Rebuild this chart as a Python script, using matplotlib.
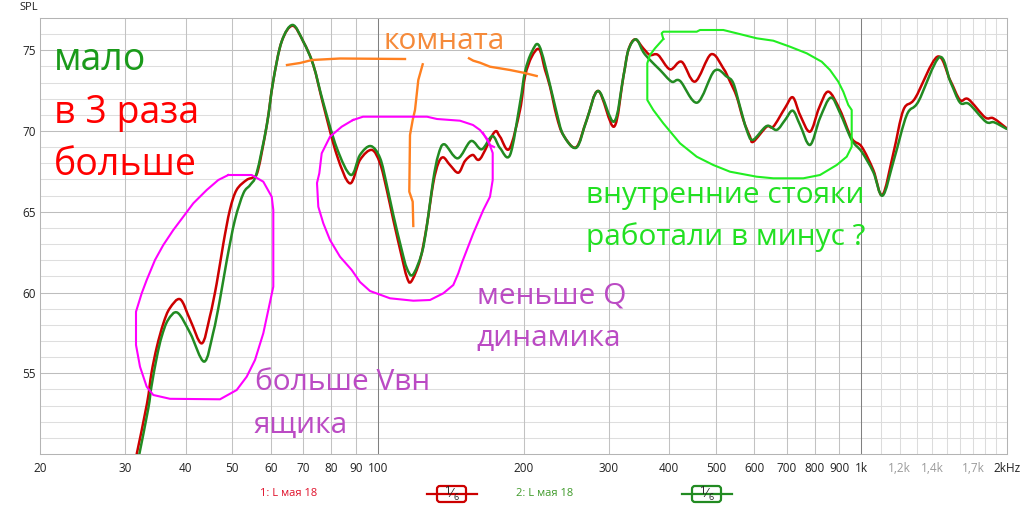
import numpy as np
import matplotlib
matplotlib.use('Agg')
import matplotlib.pyplot as plt
from matplotlib.transforms import Affine2D
from matplotlib.patches import FancyBboxPatch, PathPatch
from matplotlib.path import Path

plt.rcParams['font.family'] = ['Open Sans', 'DejaVu Sans']

# ---------------- data ----------------
freq_red = [31.7, 33.3, 34.0, 34.9, 36.0, 37.1, 39.0, 40.9, 43.2, 44.9, 46.4, 47.9, 49.4, 51.0,
            53.5, 55.2, 56.5, 58.9, 60.7, 63.2, 66.6, 70.1, 73.5, 77.1, 82.2, 87.5, 91.8, 97.1,
            101.0, 104.3, 107.6, 112.0, 114.7, 117.1, 122.2, 126.1, 130.1, 133.3, 136.5, 140.9,
            146.7, 151.4, 157.0, 162.6, 174.0, 178.8, 186.9, 196.7, 201.4, 208.0, 215.6, 221.6,
            226.9, 234.3, 241.7, 256.9, 270.2, 285.6, 307.8, 321.8, 329.6, 340.2, 353.8, 365.3,
            379.6, 401.8, 424.7, 452.6, 488.4, 517.8, 534.8, 552.0, 569.9, 588.2, 597.6, 636.8,
            657.1, 694.9, 721.0, 746.6, 782.8, 817.2, 854.0, 902.8, 954.6, 1001, 1058, 1105,
            1164, 1221, 1291, 1435, 1525, 1599, 1664, 1801, 1874, 1997]
spl_red = [50.00, 53.14, 55.00, 56.65, 58.10, 59.02, 59.58, 58.30, 56.85, 58.50, 60.57, 63.05, 65.11, 66.35,
           66.97, 67.14, 67.59, 70.37, 73.06, 75.53, 76.52, 75.53, 74.09, 71.61, 68.52, 66.76, 68.21, 68.83,
           68.00, 66.35, 64.49, 62.22, 60.98, 60.67, 62.02, 64.08, 66.76, 68.00, 68.37, 67.90,
           67.42, 68.15, 68.52, 68.27, 69.92, 69.65, 68.89, 71.30, 73.37, 74.60, 75.06, 73.78,
           72.75, 70.89, 69.76, 68.99, 70.68, 72.48, 70.27, 73.37, 75.02, 75.68, 75.12, 74.71,
           74.71, 73.82, 74.29, 73.06, 74.75, 73.89, 73.06, 72.13, 70.68, 69.65, 69.34, 70.27,
           70.27, 71.43, 72.09, 70.99, 69.96, 71.43, 72.44, 71.30, 69.55, 69.03, 67.59, 66.04,
           68.62, 71.30, 72.03, 74.60, 73.16, 71.92, 71.97, 70.85, 70.79, 70.17]

freq_green = [32.1, 33.5, 34.0, 34.9, 35.7, 36.8, 38.5, 40.9, 43.7, 45.6, 47.1, 48.7, 50.6, 52.7,
              54.4, 56.1, 58.9, 60.7, 63.2, 66.6, 70.1, 73.5, 77.1, 82.2, 87.9, 91.8, 96.6, 101.0,
              104.3, 107.6, 112.0, 114.7, 118.0, 123.2, 126.3, 130.1, 133.3, 137.2, 146.2, 155.7,
              163.9, 172.4, 178.8, 187.6, 196.7, 201.4, 208.0, 215.6, 226.9, 234.3, 241.7, 257.3,
              270.2, 285.6, 307.8, 321.8, 329.6, 341.8, 353.8, 365.3, 383.2, 404.9, 421.6, 457.4,
              496.2, 526.4, 543.2, 560.8, 578.9, 596.0, 636.8, 667.9, 694.9, 721.0, 746.6, 782.8,
              820.9, 863.8, 902.8, 954.6, 1001, 1058, 1106, 1167, 1241, 1311, 1449, 1528, 1599,
              1670, 1808, 1881, 1997]
spl_green = [50.00, 52.83, 54.17, 56.03, 57.27, 58.30, 58.75, 57.48, 55.72, 57.48, 59.54, 62.02, 64.49, 66.15,
             66.66, 67.38, 70.37, 73.06, 75.53, 76.57, 75.53, 74.09, 71.74, 68.95, 67.28, 68.52, 69.07, 68.33,
             66.66, 64.80, 62.63, 61.52, 61.09, 62.43, 64.18, 66.97, 68.52, 69.18, 68.31, 69.38,
             68.87, 69.69, 68.95, 68.52, 71.74, 73.66, 74.89, 75.27, 72.85, 71.12, 69.76, 68.97,
             70.68, 72.48, 70.58, 73.37, 75.02, 75.68, 74.89, 74.40, 73.78, 73.06, 73.10, 71.76,
             73.72, 73.37, 72.96, 71.51, 70.07, 69.45, 70.31, 70.07, 70.68, 71.26, 70.37, 69.14,
             70.81, 72.07, 71.12, 69.45, 68.72, 67.46, 66.00, 68.21, 71.00, 71.82, 74.57, 73.04, 71.76,
             71.67, 70.58, 70.54, 70.13]

x_tick_values = [20, 30, 40, 50, 60, 70, 80, 90, 100, 200, 300, 400, 500, 600, 700, 800, 900,
                 1000, 1200, 1400, 1700, 2000]
x_tick_labels = ['20', '30', '40', '50', '60', '70', '80', '90', '100', '200', '300', '400', '500',
                 '600', '700', '800', '900', '1k', '1,2k', '1,4k', '1,7k', '2kHz']
grey_x_labels = ['1,2k', '1,4k', '1,7k']
y_tick_values = [55, 60, 65, 70, 75]
legend_names = ['1: L мая 18', '2: L мая 18']

# hand-drawn annotation strokes (image pixel coordinates, y from top)
orange_strokes = [
    [(287, 65), (300, 63), (312, 60), (340, 58.5), (405, 59)],
    [(422.7, 64.3), (418.3, 80), (415, 110), (412.7, 120), (410, 135), (409.3, 191.7),
     (412.7, 201.7), (413.3, 226)],
    [(469, 58.3), (473.3, 60.7), (480, 62.7), (490, 66.7), (510, 70), (523.3, 72.7), (536.7, 76)],
]
magenta_strokes = [
    [(228.3, 175), (251.7, 175), (263.3, 181.7), (271.7, 196.7), (273.3, 210), (273.3, 286.7),
     (268.3, 310), (263.3, 333.3), (255, 360), (246.7, 376.7), (236.7, 390), (220, 399.3),
     (170, 398.8), (153.3, 395), (146.7, 386.7), (140, 366.7), (136, 345), (136, 311.7),
     (141.7, 293.3), (146.7, 280), (155, 260), (163.3, 245), (173.3, 230), (183.3, 216.7),
     (193.3, 203.3), (206.7, 190), (218.3, 180), (228.3, 175)],
    [(353, 120), (363, 116.7), (427, 116.7), (437, 119), (460, 120.7), (473, 125), (480, 130),
     (488, 140), (492.7, 153), (492.7, 180), (490, 196.7), (483.3, 210), (473.3, 233.3),
     (461.7, 263.3), (458.3, 273.3), (453.3, 285), (443.3, 293.3), (430, 300), (413.3, 300.7),
     (390, 298.3), (370, 291), (360, 282), (351.7, 270), (340, 256.7), (330, 240),
     (323.3, 223.3), (318.3, 206.7), (317, 183), (319.3, 173.3), (321.7, 153.3), (330, 136.7),
     (341.7, 126.7), (353, 120)],
    [(483, 133), (490, 145), (494, 147)],
]
green_strokes = [
    [(663.3, 39), (661.7, 33.3), (663.3, 31.7), (696.7, 31.7), (700, 30), (723.3, 30),
     (736.7, 33.3), (756.7, 38.3), (773.3, 40.7), (790, 46.7), (806.7, 53.3), (821.7, 61.7),
     (830, 70), (838.3, 81.7), (843.3, 91.7), (848.3, 105), (851.7, 110), (851.7, 146.7),
     (846.7, 156.7), (836.7, 165), (820, 175), (803.3, 178.3), (773.3, 178.3), (756.7, 176.7),
     (730, 171.7), (713.3, 165), (696.7, 156.7), (680, 143.3), (663.3, 123.3), (653.3, 110),
     (647.3, 100), (647.3, 63.3), (650, 55), (655, 48.3), (663.3, 39)],
]

# ---------------- figure ----------------
W, H = 1027, 505
fig = plt.figure(figsize=(W / 100, H / 100), dpi=100)
fig.patch.set_facecolor('white')
L, R, T, B = 40, 1007, 18, 454
ax = fig.add_axes([L / W, 1 - B / H, (R - L) / W, (B - T) / H])
ax.set_xscale('log')
ax.set_xlim(20, 2000)
ax.set_ylim(50, 77)
px = Affine2D().scale(1 / W, -1 / H).translate(0, 1) + fig.transFigure

# grid
for v in range(51, 77):
    ax.axhline(v, color='#bdbdbd' if v % 5 == 0 else '#dedede', lw=0.75, zorder=0)
for v in list(range(30, 100, 10)) + list(range(200, 1000, 100)):
    ax.axvline(v, color='#c2c2c2', lw=0.75, zorder=0)
for v in range(1100, 2000, 100):
    ax.axvline(v, color='#dcdcdc', lw=0.75, zorder=0)
for v in (100, 1000):
    ax.axvline(v, color='#808080', lw=0.75, zorder=0)
for s in ax.spines.values():
    s.set_color('#b4b4b4')
    s.set_linewidth(0.75)

ax.set_xticks(x_tick_values)
ax.set_xticklabels(x_tick_labels)
ax.xaxis.set_minor_locator(matplotlib.ticker.NullLocator())
ax.set_yticks(y_tick_values)
ax.tick_params(axis='both', length=0, labelsize=8.5, colors='#222222')
ax.tick_params(axis='x', pad=6)
ax.tick_params(axis='y', pad=3)
for lab in ax.get_xticklabels():
    if lab.get_text() in grey_x_labels:
        lab.set_color('#9a9a9a')

fig.text(28.5, 8, 'SPL', transform=px, fontsize=8, color='#222222', ha='center', va='center')


# curves: smooth (Catmull-Rom) line drawn through the read points, in log-frequency space
def smooth_curve(freqs, vals, color, z):
    P = np.column_stack([np.log10(freqs), vals])
    n = len(P)
    verts = [P[0]]
    codes = [Path.MOVETO]
    for i in range(n - 1):
        p0 = P[max(i - 1, 0)]
        p1 = P[i]
        p2 = P[i + 1]
        p3 = P[min(i + 2, n - 1)]
        verts += [p1 + (p2 - p0) / 6, p2 - (p3 - p1) / 6, p2]
        codes += [Path.CURVE4] * 3
    V = np.array(verts)
    V[:, 0] = 10 ** V[:, 0]
    ax.add_patch(PathPatch(Path(V, codes), fill=False, edgecolor=color, lw=1.8,
                           joinstyle='round', capstyle='round', zorder=z))


smooth_curve(freq_red, spl_red, '#cc0000', 3)
smooth_curve(freq_green, spl_green, '#228b22', 4)

# hand-drawn strokes
for strokes, col, lw in ((orange_strokes, '#ff8020', 1.7), (magenta_strokes, '#ff00ff', 1.5),
                         (green_strokes, '#22ee22', 1.5)):
    for st in strokes:
        xs = [p[0] for p in st]
        ys = [p[1] for p in st]
        fig.add_artist(matplotlib.lines.Line2D(xs, ys, transform=px, color=col, lw=lw,
                                               solid_joinstyle='round', zorder=6))


# annotation texts
def note(x, y, s, col, size):
    fig.text(x, y, s, transform=px, color=col, fontsize=size, ha='left', va='baseline', zorder=7)


note(54, 70, 'мало', '#1a9a1a', 27)
note(54, 123, 'в 3 раза', '#ff0000', 27)
note(54, 175, 'больше', '#ff0000', 27)
note(384, 49, 'комната', '#f58a3a', 21.5)
note(477, 303, 'меньше Q', '#bb4bc4', 21.5)
note(476, 346, 'динамика', '#bb4bc4', 21.5)
note(255, 390, 'больше Vвн', '#bb4bc4', 21.5)
note(254, 433, 'ящика', '#bb4bc4', 21.5)
note(586, 203, 'внутренние стояки', '#22e022', 21.5)
note(586, 245, 'работали в минус ?', '#22e022', 21.5)

# legend strip
legend_cols = ['#e0102a', '#3f9a2a']
box_cols = ['#cc0000', '#228b22']
text_x = [260, 516]
box_x = [(427, 437, 466, 477), (682, 692, 721, 732)]
for name, tc, bc, tx, (l0, b0, b1, l1) in zip(legend_names, legend_cols, box_cols, text_x, box_x):
    fig.text(tx, 493, name, transform=px, color=tc, fontsize=8, ha='left', va='center')
    fig.add_artist(matplotlib.lines.Line2D([l0, l1], [493.5, 493.5], transform=px, color=bc, lw=1.6))
    fig.add_artist(FancyBboxPatch((b0, 486), b1 - b0, 16, boxstyle='round,pad=0,rounding_size=3',
                                  transform=px, facecolor='white', edgecolor=bc, lw=1.6))
    cx = (b0 + b1) / 2
    fig.text(cx - 4, 491.5, '1', transform=px, color='#222222', fontsize=8, ha='center', va='center')
    fig.text(cx, 493.5, '\u2044', transform=px, color='#222222', fontsize=9, ha='center', va='center')
    fig.text(cx + 4.5, 497, '6', transform=px, color='#222222', fontsize=6.5, ha='center', va='center')

fig.savefig('out.png', dpi=100)
